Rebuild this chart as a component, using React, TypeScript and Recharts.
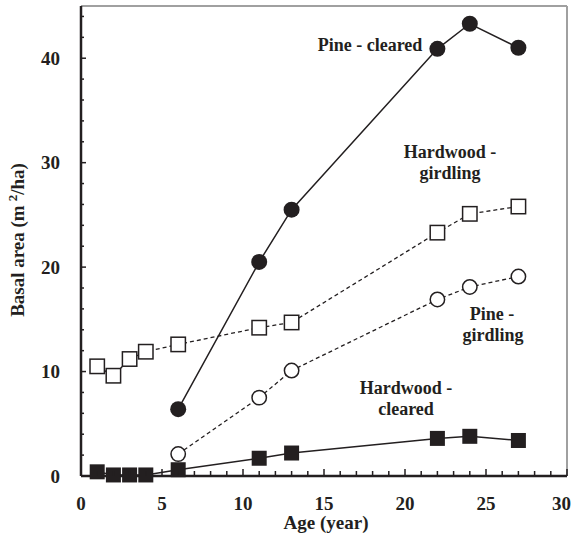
import React from "react";
import { ComposedChart, Line, XAxis, YAxis, ReferenceLine, Customized } from "recharts";

// Stand age (years) at each measurement
const hardwoodAges = [1, 2, 3, 4, 6, 11, 13, 22, 24, 27];
const pineAges = [6, 11, 13, 22, 24, 27];

// Basal area (m²/ha)
const pineCleared = [6.4, 20.5, 25.5, 40.9, 43.3, 41.0];
const pineGirdling = [2.1, 7.5, 10.1, 16.9, 18.1, 19.1];
const hardwoodGirdling = [10.5, 9.6, 11.2, 11.9, 12.6, 14.2, 14.7, 23.3, 25.1, 25.8];
const hardwoodCleared = [0.4, 0.1, 0.1, 0.1, 0.6, 1.7, 2.2, 3.6, 3.8, 3.4];

const xTicks = Array.from({ length: 31 }, (_, i) => i);
const yTicks = Array.from({ length: 23 }, (_, i) => i * 2);
const xLabelled = [0, 5, 10, 15, 20, 25, 30];
const yLabelled = [0, 10, 20, 30, 40];

const toPoints = (xs: number[], ys: number[]) => xs.map((age, i) => ({ age, value: ys[i] }));

const FONT = '"Liberation Serif", "Times New Roman", Times, serif';
const INK = "#231f20";
const textStyle: React.CSSProperties = { fontFamily: FONT, fontWeight: 700, fontSize: 18, fill: INK };
const tickStyle: React.CSSProperties = { ...textStyle, fontSize: 19 };
const titleStyle: React.CSSProperties = { ...textStyle, fontSize: 19 };

const FilledCircle = (p: any) => <circle cx={p.cx} cy={p.cy} r={8} fill={INK} />;
const OpenCircle = (p: any) => (
  <circle cx={p.cx} cy={p.cy} r={7.2} fill="#fff" stroke={INK} strokeWidth={1.5} />
);
const FilledSquare = (p: any) => (
  <rect x={p.cx - 7.5} y={p.cy - 7.5} width={15} height={15} fill={INK} />
);
const OpenSquare = (p: any) => (
  <rect x={p.cx - 7.2} y={p.cy - 7.2} width={14.4} height={14.4} fill="#fff" stroke={INK} strokeWidth={1.5} />
);

const YTick = (p: any) => {
  const v = p.payload.value;
  const major = yLabelled.includes(v);
  return (
    <g>
      <line x1={p.x} x2={p.x + (major ? 5 : 3)} y1={p.y} y2={p.y} stroke={INK} strokeWidth={1.5} />
      {major && (
        <text x={p.x - 21} y={p.y} dy="0.35em" textAnchor="end" style={tickStyle}>
          {v}
        </text>
      )}
    </g>
  );
};

const XTick = (p: any) => {
  const v = p.payload.value;
  const major = xLabelled.includes(v);
  const last = v === 30;
  return (
    <g>
      <line x1={p.x} x2={p.x} y1={p.y} y2={p.y - (major ? 7 : 5)} stroke={INK} strokeWidth={1.5} />
      {major && (
        <text x={last ? p.x + 4 : p.x} y={p.y + 34} textAnchor={last ? "end" : "middle"} style={tickStyle}>
          {v}
        </text>
      )}
    </g>
  );
};

const Annotations = () => (
  <g>
    <text x={370} y={51} textAnchor="middle" style={textStyle}>Pine - cleared</text>
    <text x={450} y={158} textAnchor="middle" style={textStyle}>Hardwood -</text>
    <text x={450} y={179} textAnchor="middle" style={textStyle}>girdling</text>
    <text x={492} y={320} textAnchor="middle" style={textStyle}>Pine -</text>
    <text x={493} y={341} textAnchor="middle" style={textStyle}>girdling</text>
    <text x={406} y={394} textAnchor="middle" style={textStyle}>Hardwood -</text>
    <text x={406} y={415} textAnchor="middle" style={textStyle}>cleared</text>
    <text x={326} y={529} textAnchor="middle" style={titleStyle}>Age (year)</text>
    <text transform="translate(24,240) rotate(-90)" textAnchor="middle" style={titleStyle}>
      Basal area (m<tspan dx={4} dy={-7} style={{ fontSize: 13 }}>2</tspan>
      <tspan dy={7}>/ha)</tspan>
    </text>
  </g>
);

export default function App() {
  return (
    <div style={{ position: "absolute", left: 0, top: 0, fontFamily: FONT }}>
      <ComposedChart width={574} height={545} margin={{ top: 6, right: 7, bottom: 0, left: 0 }}>
        <XAxis
          type="number"
          dataKey="age"
          domain={[0, 30]}
          ticks={xTicks}
          interval={0}
          tickSize={0}
          tickMargin={0}
          tickLine={false}
          tick={<XTick />}
          height={69}
          axisLine={{ stroke: INK, strokeWidth: 2.5 }}
        />
        <YAxis
          type="number"
          dataKey="value"
          domain={[0, 45]}
          ticks={yTicks}
          interval={0}
          tickSize={0}
          tickMargin={0}
          tickLine={false}
          tick={<YTick />}
          width={81}
          axisLine={{ stroke: INK, strokeWidth: 2.5 }}
        />
        <ReferenceLine y={45} stroke="#a0a0a0" strokeWidth={2} />
        <ReferenceLine x={30} stroke="#a0a0a0" strokeWidth={2} />
        <Line
          data={toPoints(hardwoodAges, hardwoodGirdling)}
          dataKey="value"
          stroke={INK}
          strokeWidth={1.3}
          strokeDasharray="4 3"
          dot={<OpenSquare />}
          isAnimationActive={false}
        />
        <Line
          data={toPoints(pineAges, pineGirdling)}
          dataKey="value"
          stroke={INK}
          strokeWidth={1.3}
          strokeDasharray="4 3"
          dot={<OpenCircle />}
          isAnimationActive={false}
        />
        <Line
          data={toPoints(pineAges, pineCleared)}
          dataKey="value"
          stroke={INK}
          strokeWidth={1.5}
          dot={<FilledCircle />}
          isAnimationActive={false}
        />
        <Line
          data={toPoints(hardwoodAges, hardwoodCleared)}
          dataKey="value"
          stroke={INK}
          strokeWidth={1.5}
          dot={<FilledSquare />}
          isAnimationActive={false}
        />
        <Customized component={Annotations} />
      </ComposedChart>
    </div>
  );
}
